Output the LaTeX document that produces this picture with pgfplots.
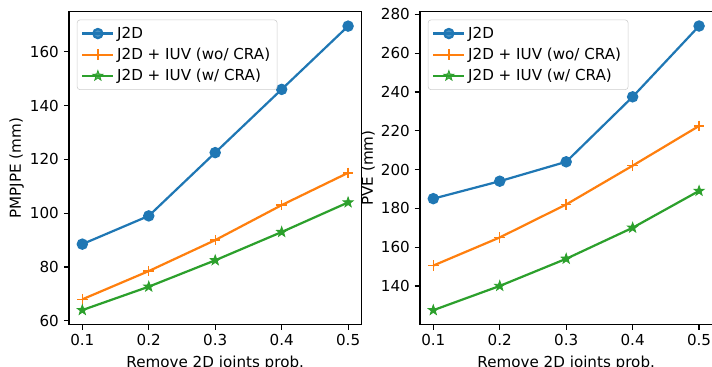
\documentclass[border=0pt]{standalone}
\usepackage{pgfplots}
\pgfplotsset{compat=1.18}
\usepackage{fontspec}
\setmainfont{DejaVu Sans}
\definecolor{C0}{HTML}{1F77B4}
\definecolor{C1}{HTML}{FF7F0E}
\definecolor{C2}{HTML}{2CA02C}
\pgfdeclareplotmark{fstar}{%
  \pgfpathmoveto{\pgfqpointpolar{90}{\pgfplotmarksize}}%
  \pgfpathlineto{\pgfqpointpolar{126}{0.4\pgfplotmarksize}}%
  \pgfpathlineto{\pgfqpointpolar{162}{\pgfplotmarksize}}%
  \pgfpathlineto{\pgfqpointpolar{198}{0.4\pgfplotmarksize}}%
  \pgfpathlineto{\pgfqpointpolar{234}{\pgfplotmarksize}}%
  \pgfpathlineto{\pgfqpointpolar{270}{0.4\pgfplotmarksize}}%
  \pgfpathlineto{\pgfqpointpolar{306}{\pgfplotmarksize}}%
  \pgfpathlineto{\pgfqpointpolar{342}{0.4\pgfplotmarksize}}%
  \pgfpathlineto{\pgfqpointpolar{18}{\pgfplotmarksize}}%
  \pgfpathlineto{\pgfqpointpolar{54}{0.4\pgfplotmarksize}}%
  \pgfpathclose
  \pgfusepathqfillstroke
}
\newcommand{\fs}{\fontsize{10.9}{13}\selectfont}
\pgfplotsset{
  mpl/.style={
    scale only axis,
    width=210.5pt, height=225pt,
    xmin=0.08, xmax=0.52,
    xtick={0.1,0.2,0.3,0.4,0.5},
    xticklabels={0.1,0.2,0.3,0.4,0.5},
    /pgf/number format/assume math mode=true,
    tick label style={font=\fs},
    label style={font=\fs},
    tick align=outside, tick pos=left,
    major tick length=3.8pt,
    every tick/.style={black, line width=0.85pt},
    axis line style={line width=0.85pt},
    xlabel={Remove 2D joints prob.},
    xlabel style={yshift=-0.5pt},
    ylabel style={yshift=-2.5pt},
    legend style={font=\fs, draw=black!20, rounded corners=2pt,
      fill=white, fill opacity=0.8, text opacity=1, at={(0.027,0.975)}, anchor=north west,
      inner sep=3pt, row sep=1.5pt},
    legend cell align=left,
    legend image code/.code={
      \draw[mark repeat=2,mark phase=2] plot coordinates {(0cm,0cm) (0.39cm,0cm) (0.78cm,0cm)};
    },
    every axis plot/.append style={line width=1.6pt},
  }
}
\begin{document}
\begin{tikzpicture}
\path[use as bounding box] (0,0) rectangle (512.64pt,264.24pt);
\begin{axis}[mpl, at={(49.7pt,30.7pt)}, anchor=south west,
  ymin=58.7, ymax=174.8, ytick={60,80,100,120,140,160},
  ylabel={PMPJPE (mm)}]
\addplot[C0, mark=*, mark size=3.3pt] coordinates {(0.1,88.5) (0.2,99) (0.3,122.5) (0.4,146) (0.5,169.5)};
\addlegendentry{J2D}
\addplot[C1, mark=+, mark size=3.8pt, mark options={line width=1pt}] coordinates {(0.1,68) (0.2,78.5) (0.3,90) (0.4,103) (0.5,115)};
\addlegendentry{J2D + IUV (wo/ CRA)}
\addplot[C2, mark=fstar, mark size=3.8pt, mark options={line width=0.6pt, fill=C2}] coordinates {(0.1,64) (0.2,72.7) (0.3,82.5) (0.4,93) (0.5,104)};
\addlegendentry{J2D + IUV (w/ CRA)}
\end{axis}
\begin{axis}[mpl, at={(302.4pt,30.7pt)}, anchor=south west,
  ymin=120.2, ymax=281.3, ytick={140,160,180,200,220,240,260,280},
  ylabel={PVE (mm)}]
\addplot[C0, mark=*, mark size=3.3pt] coordinates {(0.1,185) (0.2,194) (0.3,204) (0.4,237.5) (0.5,274)};
\addlegendentry{J2D}
\addplot[C1, mark=+, mark size=3.8pt, mark options={line width=1pt}] coordinates {(0.1,150.5) (0.2,165) (0.3,182) (0.4,202) (0.5,222.5)};
\addlegendentry{J2D + IUV (wo/ CRA)}
\addplot[C2, mark=fstar, mark size=3.8pt, mark options={line width=0.6pt, fill=C2}] coordinates {(0.1,127.5) (0.2,140) (0.3,154) (0.4,170) (0.5,189)};
\addlegendentry{J2D + IUV (w/ CRA)}
\end{axis}
\end{tikzpicture}
\end{document}
